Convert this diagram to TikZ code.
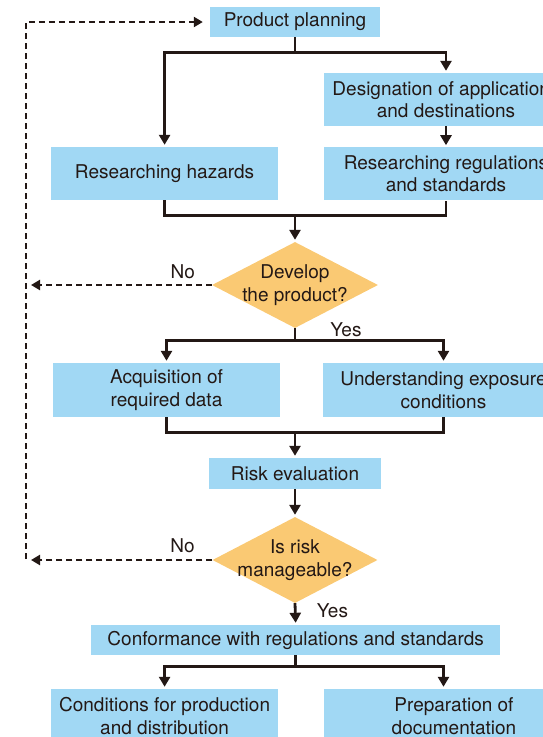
\documentclass[tikz,border=0pt]{standalone}
\usepackage{fontspec}
\setmainfont{TeX Gyre Heros}
\usetikzlibrary{shapes.geometric,arrows.meta,positioning,calc}
\definecolor{boxblue}{RGB}{161,216,244}
\definecolor{decorange}{RGB}{250,201,115}
\definecolor{inkdark}{RGB}{35,24,21}

\begin{document}
\begin{tikzpicture}[
    x=1pt, y=-1pt,
    font=\fontsize{19}{22.5}\selectfont,
    text=inkdark,
    stepbox/.style={rectangle, fill=boxblue, align=center, inner sep=0pt},
    decide/.style={diamond, fill=decorange, inner sep=0pt, minimum width=166, minimum height=86},
    link/.style={line width=2.8pt, draw=inkdark},
    flow/.style={link, -{Triangle[length=10pt,width=11pt]}, shorten >=2pt},
    back/.style={line width=2.4pt, draw=inkdark, dash pattern=on 6pt off 4pt, -{Triangle[length=9pt,width=10pt]}, shorten >=5pt},
    lbl/.style={inner sep=1pt}
]
\useasboundingbox (0,0) rectangle (543,737);
\clip (0,0) rectangle (543,737);

% Planning and research
\node[stepbox, minimum width=170, minimum height=30] (plan) at (295,22) {Product planning};
\node[stepbox, minimum width=244, minimum height=53] (desig) at (446,99.5) {Designation of applications\\and destinations};
\node[stepbox, minimum width=227, minimum height=53] (hazards) at (164.6,173.5) {Researching hazards};
\node[stepbox, minimum width=244, minimum height=53, below=21pt of desig] (regs) {Researching regulations\\and standards};

% First decision
\node[decide, label={[align=center]center:{Develop\\the product?}}] (dev) at (295,285) {};

% Data and evaluation
\node[stepbox, minimum width=227, minimum height=54] (acq) at (166.5,390) {Acquisition of\\required data};
\node[stepbox, minimum width=241, minimum height=54] (expo) at (443.5,390) {Understanding exposure\\conditions};
\node[stepbox, minimum width=172, minimum height=31] (risk) at (295,473.5) {Risk evaluation};

% Second decision
\node[decide, minimum width=165, label={[align=center]center:{Is risk\\manageable?}}] (manage) at (295,560) {};

% Conformance
\node[stepbox, minimum width=408.5, minimum height=30] (conform) at (295.7,640) {Conformance with regulations and standards};
\node[stepbox, minimum width=227, minimum height=54] (cond) at (164.6,716) {Conditions for production\\and distribution};
\node[stepbox, minimum width=260, minimum height=54] (prep) at (454,716) {Preparation of\\documentation};

% Labels
\node[lbl] (yes1) at (346,330) {Yes};
\node[lbl] (yes2) at (332.5,611) {Yes};

% Connections
\draw[link] (plan.south) -- ++(0,15) coordinate (f1);
\draw[flow] (f1) -| (hazards.north);
\draw[flow] (f1) -| (desig.north);
\draw[flow] (desig.south) -- (regs.north);
\draw[link] (hazards.south) -- ++(0,15) coordinate (m1) -| (regs.south);
\draw[flow] (m1 -| dev.north) -- (dev.north);

\draw[link] (dev.south) -- ++(0,12) coordinate (f2);
\draw[flow] (f2) -| (acq.north);
\draw[flow] (f2) -| (expo.north);
\draw[link] (acq.south) -- ++(0,15) coordinate (m2) -| (expo.south);
\draw[flow] (m2 -| risk.north) -- (risk.north);
\draw[flow] (risk.south) -- (manage.north);
\draw[flow] (manage.south) -- (conform.north);

\draw[link] (conform.south) -- ++(0,11) coordinate (f3);
\draw[flow] (f3) -| (cond.north);
\draw[flow] (f3) -| ([xshift=-10.5pt]prep.north);

% Feedback loop
\coordinate (lb) at (26,559);
\coordinate (lt) at (26,22);
\draw[back] (dev.west) -- (dev.west -| lb) node[lbl, pos=0.156, above=4pt] {No};
\draw[back] (manage.west) -- (manage.west -| lb) node[lbl, pos=0.16, above=5pt] {No};
\draw[back, shorten >=7pt] (lb) -- (lt) -- (plan.west);

\end{tikzpicture}
\end{document}
